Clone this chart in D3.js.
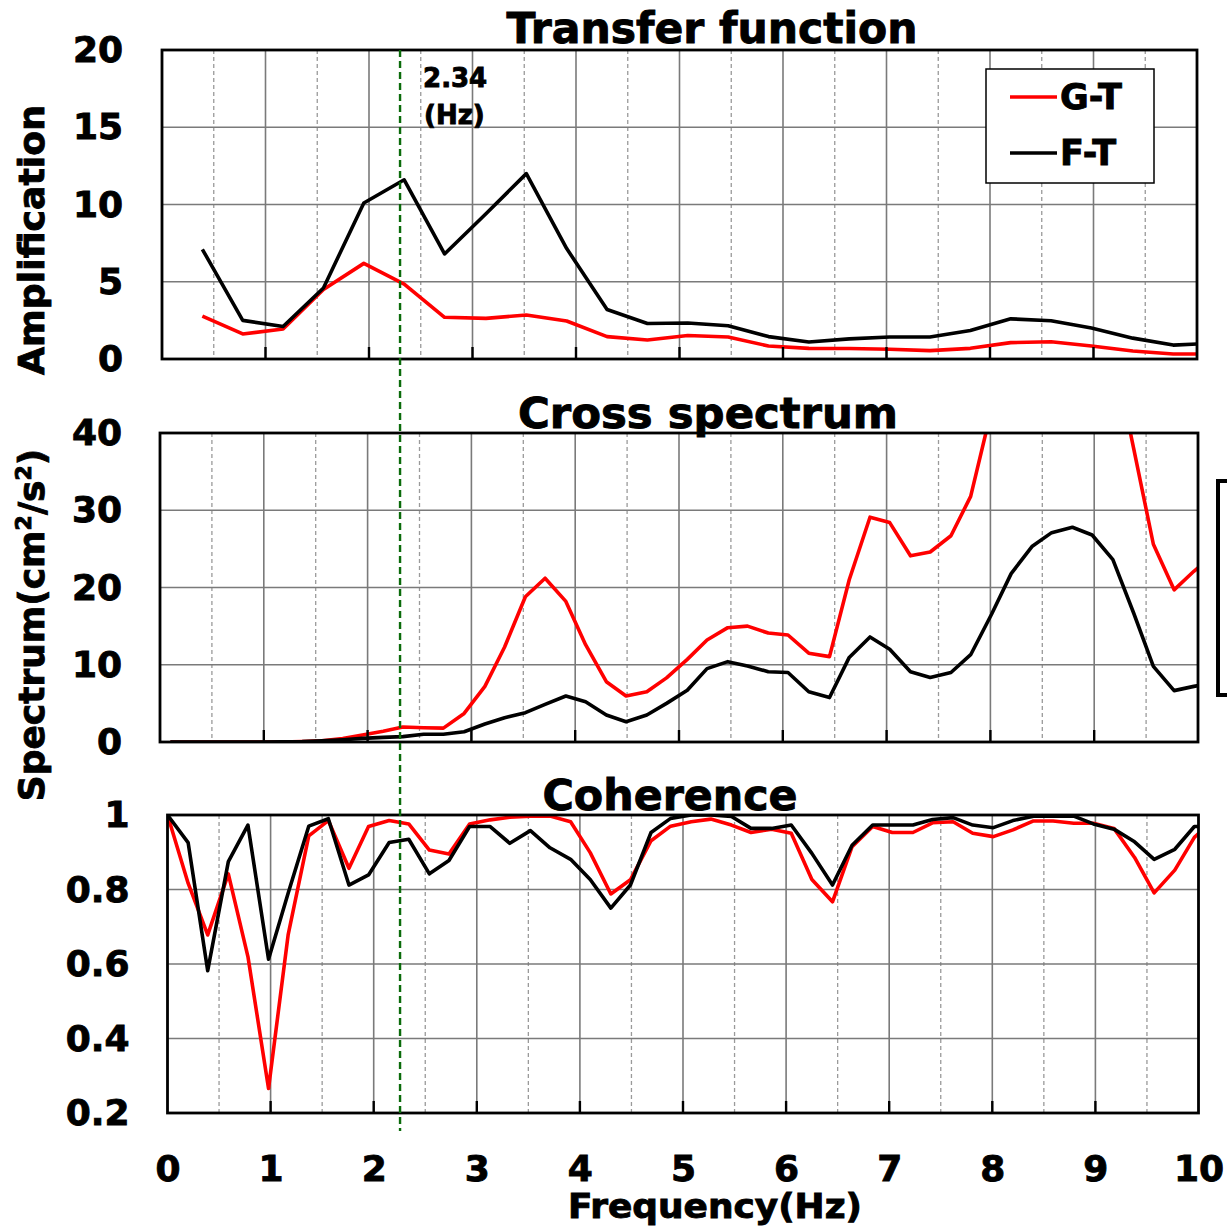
<!DOCTYPE html>
<html><head><meta charset="utf-8">
<script src="https://cdn.jsdelivr.net/npm/d3@7"></script>
<style>body{margin:0;background:#fff}text{font-family:'DejaVu Sans',sans-serif;font-weight:bold;fill:#000;stroke:#000;stroke-width:0.9px}</style>
</head><body>
<svg id="c" width="1227" height="1228"></svg>
<script>
// ---------- data ----------
const seriesNames = ["G-T", "F-T"];
const seriesColors = ["#ff0000", "#000000"];

const tfFreq = [0.39,0.78,1.17,1.56,1.95,2.34,2.73,3.13,3.52,3.91,4.30,4.69,5.08,5.47,5.86,6.25,6.64,7.03,7.42,7.81,8.20,8.59,8.98,9.38,9.77,10.16];
const tfGT = [2.78,1.62,1.94,4.5,6.19,4.85,2.7,2.63,2.85,2.46,1.45,1.23,1.52,1.42,0.84,0.69,0.68,0.63,0.54,0.69,1.06,1.12,0.84,0.52,0.32,0.32];
const tfFT = [7.1,2.5,2.1,4.6,10.1,11.6,6.8,9.4,12.0,7.15,3.2,2.3,2.33,2.15,1.45,1.1,1.3,1.42,1.42,1.85,2.6,2.48,2.0,1.35,0.9,1.02];

const csFreq = [0.10,0.20,0.39,0.59,0.78,0.98,1.17,1.37,1.56,1.76,1.95,2.15,2.34,2.54,2.73,2.93,3.13,3.32,3.52,3.71,3.91,4.10,4.30,4.49,4.69,4.88,5.08,5.27,5.47,5.66,5.86,6.05,6.25,6.45,6.64,6.84,7.03,7.23,7.42,7.62,7.81,8.01,8.20,8.40,8.59,8.79,8.98,9.18,9.38,9.57,9.77,9.96,10.16];
const csGT = [0,0,0,0,0,0,0,0.05,0.15,0.45,0.9,1.4,1.95,1.85,1.8,3.7,7.2,12.3,18.8,21.2,18.2,12.6,7.8,5.95,6.5,8.3,10.7,13.2,14.8,15.0,14.1,13.85,11.5,11.05,21.0,29.1,28.4,24.1,24.6,26.7,31.8,43,52,58,62,60,56,51,38,25.6,19.7,22.1,24.3];
const csFT = [0,0,0,0,0,0,0.02,0.05,0.15,0.3,0.47,0.6,0.7,1.0,1.0,1.33,2.33,3.15,3.8,4.88,5.95,5.2,3.5,2.63,3.5,5.0,6.7,9.5,10.4,9.85,9.1,9.0,6.5,5.75,10.95,13.6,12.0,9.1,8.35,9.0,11.3,16.5,21.8,25.3,27.1,27.8,26.8,23.6,16.7,9.8,6.65,7.2,7.7];

const cohFreq = [0,0.20,0.39,0.59,0.78,0.98,1.17,1.37,1.56,1.76,1.95,2.15,2.34,2.54,2.73,2.93,3.13,3.32,3.52,3.71,3.91,4.10,4.30,4.49,4.69,4.88,5.08,5.27,5.47,5.66,5.86,6.05,6.25,6.45,6.64,6.84,7.03,7.23,7.42,7.62,7.81,8.01,8.20,8.40,8.59,8.79,8.98,9.18,9.38,9.57,9.77,9.96,10.16];
const cohGT = [1.0,0.817,0.678,0.842,0.62,0.266,0.678,0.944,0.985,0.857,0.969,0.985,0.976,0.906,0.895,0.976,0.987,0.994,0.997,0.997,0.982,0.899,0.788,0.826,0.931,0.97,0.982,0.989,0.973,0.953,0.962,0.951,0.827,0.767,0.915,0.969,0.953,0.953,0.979,0.982,0.951,0.942,0.96,0.984,0.984,0.978,0.978,0.964,0.886,0.791,0.852,0.94,0.99];
const cohFT = [1.0,0.926,0.582,0.875,0.973,0.613,0.79,0.97,0.99,0.812,0.839,0.926,0.935,0.842,0.878,0.969,0.969,0.924,0.958,0.912,0.881,0.827,0.75,0.812,0.953,0.991,1.0,1.0,0.996,0.964,0.964,0.973,0.897,0.812,0.919,0.973,0.973,0.973,0.988,0.993,0.973,0.966,0.985,0.997,0.997,0.997,0.976,0.962,0.928,0.881,0.908,0.969,0.97];

const tfTicks = [0,5,10,15,20];
const csTicks = [0,10,20,30,40];
const cohTicks = [0.2,0.4,0.6,0.8,1];
const cohTickLabels = ["0.2","0.4","0.6","0.8","1"];
const xTicks = [0,1,2,3,4,5,6,7,8,9,10];
const majorGrid = [1,2,3,4,5,6,7,8,9];
const minorGrid = [0.5,1.5,2.5,3.5,4.5,5.5,6.5,7.5,8.5,9.5];
const markerFreq = 2.3;
const markerLabel = ["2.34", "(Hz)"];
const titles = ["Transfer function", "Cross spectrum", "Coherence"];

// ---------- layout ----------
const svg = d3.select("#c");
const panels = [
  {id:"p1", x0:162, x1:1197, yTop:50, yBot:359, dom:[0,20], ticks:tfTicks, labels:tfTicks.map(String), hTicks:[5,10,15],
   freq:tfFreq, series:[tfGT, tfFT], title:titles[0], titleX:712, titleY:43, titleLen:411, labelPad:39},
  {id:"p2", x0:160, x1:1198, yTop:433, yBot:742, dom:[0,40], ticks:csTicks, labels:csTicks.map(String), hTicks:[10,20,30],
   freq:csFreq, series:[csGT, csFT], title:titles[1], titleX:708, titleY:428, titleLen:380, labelPad:38},
  {id:"p3", x0:167.5, x1:1198.5, yTop:815, yBot:1113, dom:[0.2,1], ticks:cohTicks, labels:cohTickLabels, hTicks:[0.4,0.6,0.8],
   freq:cohFreq, series:[cohGT, cohFT], title:titles[2], titleX:670, titleY:810, titleLen:255, labelPad:38}
];

const defs = svg.append("defs");
panels.forEach(p => {
  p.x = d3.scaleLinear().domain([0,10]).range([p.x0, p.x1]);
  p.y = d3.scaleLinear().domain(p.dom).range([p.yBot, p.yTop]);
  defs.append("clipPath").attr("id","clip-"+p.id).append("rect")
    .attr("x", p.x0).attr("y", p.yTop).attr("width", p.x1-p.x0).attr("height", p.yBot-p.yTop);

  const g = svg.append("g");
  g.selectAll(".mg").data(minorGrid).join("line")
    .attr("x1", d=>p.x(d)).attr("x2", d=>p.x(d)).attr("y1", p.yTop).attr("y2", p.yBot)
    .attr("stroke", "#9a9a9a").attr("stroke-width", 1.3).attr("stroke-dasharray", "4,3");
  g.selectAll(".Mg").data(majorGrid).join("line")
    .attr("x1", d=>p.x(d)).attr("x2", d=>p.x(d)).attr("y1", p.yTop).attr("y2", p.yBot)
    .attr("stroke", "#7a7a7a").attr("stroke-width", 1.6);
  g.selectAll(".hg").data(p.hTicks).join("line")
    .attr("x1", p.x0).attr("x2", p.x1).attr("y1", d=>p.y(d)).attr("y2", d=>p.y(d))
    .attr("stroke", "#7a7a7a").attr("stroke-width", 1.6);

  const line = d3.line().x((d,i)=>p.x(p.freq[i])).y(d=>p.y(d));
  const lg = g.append("g").attr("clip-path", "url(#clip-"+p.id+")");
  p.series.forEach((s, si) => {
    lg.append("path").attr("d", line(s)).attr("fill","none")
      .attr("stroke", seriesColors[si]).attr("stroke-width", 3.6)
      .attr("stroke-linejoin","round");
  });

  g.append("rect").attr("x", p.x0).attr("y", p.yTop).attr("width", p.x1-p.x0).attr("height", p.yBot-p.yTop)
    .attr("fill","none").attr("stroke","#000").attr("stroke-width", 2.8);
  g.selectAll(".bt").data(majorGrid).join("line")
    .attr("x1", d=>p.x(d)).attr("x2", d=>p.x(d)).attr("y1", p.yBot).attr("y2", p.yBot-12)
    .attr("stroke","#000").attr("stroke-width", 2.4);

  const ax = svg.append("g").attr("transform", `translate(${p.x0},0)`)
    .call(d3.axisLeft(p.y).tickValues(p.ticks).tickSize(0).tickPadding(p.labelPad)
      .tickFormat((d,i)=>p.labels[i]));
  ax.select(".domain").remove();
  ax.selectAll("text").attr("font-size", 36).attr("font-family","'DejaVu Sans'").attr("font-weight","bold").attr("fill","#000");

  svg.append("text").attr("x", p.titleX).attr("y", p.titleY).attr("text-anchor","middle")
    .attr("font-size", 42).attr("textLength", p.titleLen).attr("lengthAdjust","spacingAndGlyphs")
    .text(p.title);
});

const p3 = panels[2];
const xa = svg.append("g").attr("transform", `translate(0,${p3.yBot})`)
  .call(d3.axisBottom(p3.x).tickValues(xTicks).tickSize(0).tickPadding(42).tickFormat(d3.format("d")));
xa.select(".domain").remove();
xa.selectAll("text").attr("font-size", 36).attr("font-family","'DejaVu Sans'").attr("font-weight","bold").attr("fill","#000");

svg.append("text").attr("x", 715).attr("y", 1218).attr("text-anchor","middle")
  .attr("font-size", 33).attr("textLength", 294).attr("lengthAdjust","spacingAndGlyphs")
  .text("Frequency(Hz)");

svg.append("text").attr("transform","translate(44,240) rotate(-90)").attr("text-anchor","middle")
  .attr("font-size", 36).attr("textLength", 270).attr("lengthAdjust","spacingAndGlyphs")
  .text("Amplification");
const st = svg.append("text").attr("transform","translate(44,625) rotate(-90)").attr("text-anchor","middle")
  .attr("font-size", 36);
st.append("tspan").text("Spectrum(cm");
st.append("tspan").attr("font-size", 22).attr("dy", -13).text("2");
st.append("tspan").attr("dy", 13).text("/s");
st.append("tspan").attr("font-size", 22).attr("dy", -13).text("2");
st.append("tspan").attr("dy", 13).text(")");

const p1 = panels[0];
const mx = p1.x(markerFreq);
svg.append("line").attr("x1", mx).attr("x2", mx).attr("y1", p1.yTop).attr("y2", 1131)
  .attr("stroke", "#0b6b0b").attr("stroke-width", 2.4).attr("stroke-dasharray", "7,4");
svg.append("text").attr("x", mx+23).attr("y", 87).attr("font-size", 26).text(markerLabel[0]);
svg.append("text").attr("x", mx+24).attr("y", 124).attr("font-size", 26).text(markerLabel[1]);

const lgd = svg.append("g");
lgd.append("rect").attr("x", 986).attr("y", 69).attr("width", 168).attr("height", 114)
  .attr("fill","#fff").attr("stroke","#000").attr("stroke-width", 1.5);
seriesNames.forEach((n, i) => {
  const yy = 97 + i*56;
  lgd.append("line").attr("x1", 1010).attr("x2", 1057).attr("y1", yy).attr("y2", yy)
    .attr("stroke", seriesColors[i]).attr("stroke-width", 3.4);
  lgd.append("text").attr("x", 1060).attr("y", yy + 12).attr("font-size", 35).text(n);
});

svg.append("rect").attr("x", 1218).attr("y", 481).attr("width", 40).attr("height", 214)
  .attr("fill","none").attr("stroke","#000").attr("stroke-width", 4);
</script>
</body></html>
